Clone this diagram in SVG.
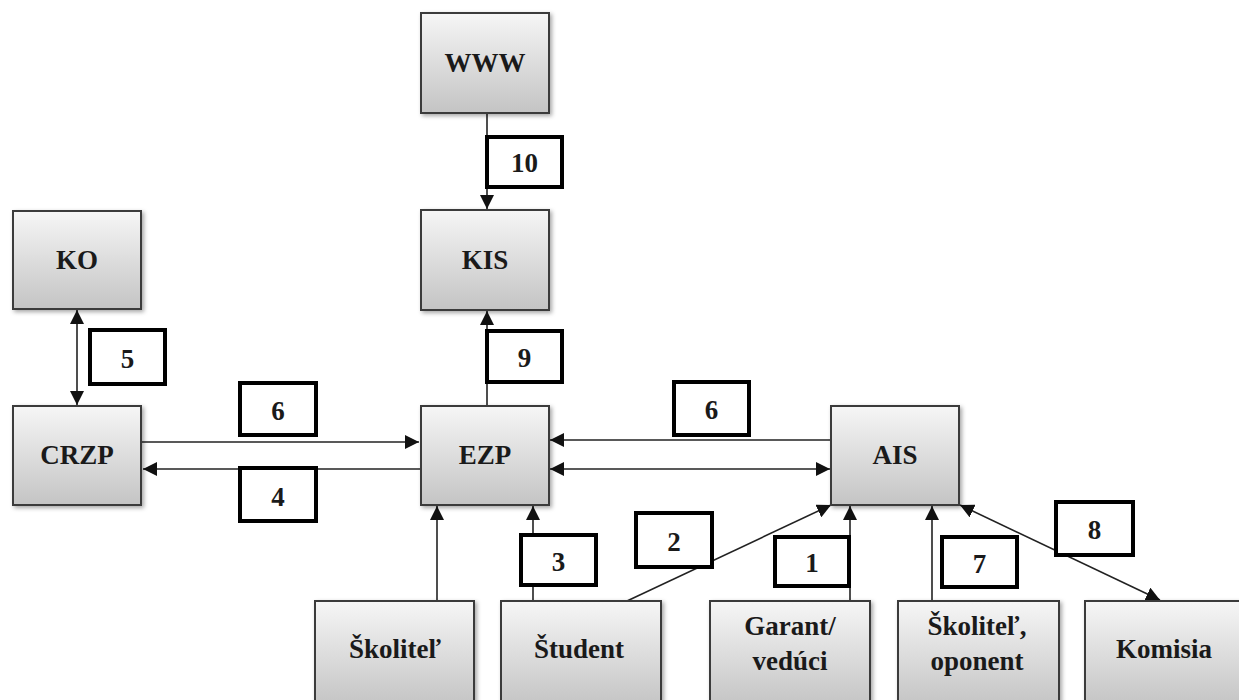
<svg xmlns="http://www.w3.org/2000/svg" width="1239" height="700" viewBox="0 0 1239 700">
<style>
.box{fill:url(#g);stroke:#3a3a3a;stroke-width:2;filter:url(#sh)}
.t{font-family:'Liberation Serif','DejaVu Serif',serif;font-weight:bold;font-size:27px;fill:#1a1a1a;text-anchor:middle}
.ln{stroke:#222;stroke-width:1.6;fill:none}
.lb{fill:#fff;stroke:#000;stroke-width:4}
.e{marker-end:url(#ah)}
.b{marker-end:url(#ah);marker-start:url(#ah)}
</style>
<defs>
<linearGradient id="g" x1="0" y1="0" x2="0" y2="1">
<stop offset="0" stop-color="#f6f6f6"/>
<stop offset="1" stop-color="#c4c4c4"/>
</linearGradient>
<filter id="sh" x="-10%" y="-10%" width="130%" height="130%">
<feDropShadow dx="2" dy="2" stdDeviation="2" flood-color="#000" flood-opacity="0.35"/>
</filter>
<marker id="ah" markerUnits="userSpaceOnUse" markerWidth="14" markerHeight="14" viewBox="0 0 12 12" refX="12" refY="6" orient="auto-start-reverse">
<path d="M0,0 L12,6 L0,12 z" fill="#111"/>
</marker>
</defs>
<rect width="1239" height="700" fill="#fff"/>
<g id="connectors">
<line class="ln e" x1="487" y1="114" x2="487" y2="209"/>
<line class="ln e" x1="487" y1="405" x2="487" y2="311"/>
<line class="ln b" x1="77" y1="310" x2="77" y2="405"/>
<line class="ln e" x1="142" y1="442" x2="419" y2="442"/>
<line class="ln e" x1="420" y1="469" x2="143" y2="469"/>
<line class="ln e" x1="831" y1="440" x2="550" y2="440"/>
<line class="ln b" x1="550" y1="469" x2="830" y2="469"/>
<line class="ln e" x1="437" y1="600" x2="437" y2="506"/>
<line class="ln e" x1="533" y1="600" x2="533" y2="506"/>
<line class="ln e" x1="627" y1="601" x2="831" y2="505"/>
<line class="ln e" x1="850" y1="600" x2="850" y2="506"/>
<line class="ln e" x1="932" y1="600" x2="932" y2="506"/>
<line class="ln b" x1="960" y1="505" x2="1160" y2="600"/>
<g id="lbl10"><rect class="lb" x="487" y="137" width="75" height="50"/><text class="t" x="524.5" y="172">10</text></g>
<g id="lbl9"><rect class="lb" x="487" y="331" width="75" height="51"/><text class="t" x="524.5" y="367">9</text></g>
<g id="lbl5"><rect class="lb" x="90" y="330" width="75" height="54"/><text class="t" x="127.5" y="368">5</text></g>
<g id="lbl6a"><rect class="lb" x="240" y="383" width="76" height="52"/><text class="t" x="278" y="420">6</text></g>
<g id="lbl4"><rect class="lb" x="240" y="468" width="76" height="53"/><text class="t" x="278" y="506">4</text></g>
<g id="lbl6b"><rect class="lb" x="674" y="382" width="75" height="53"/><text class="t" x="711.5" y="419">6</text></g>
<g id="lbl2"><rect class="lb" x="636" y="513" width="76" height="54"/><text class="t" x="674" y="551">2</text></g>
<g id="lbl3"><rect class="lb" x="521" y="535" width="75" height="50"/><text class="t" x="558.5" y="571">3</text></g>
<g id="lbl1"><rect class="lb" x="775" y="537" width="74" height="49"/><text class="t" x="812" y="572">1</text></g>
<g id="lbl7"><rect class="lb" x="942" y="537" width="75" height="50"/><text class="t" x="979.5" y="573">7</text></g>
<g id="lbl8"><rect class="lb" x="1056" y="502" width="77" height="53"/><text class="t" x="1094.5" y="539">8</text></g>
</g>
<g id="WWW"><rect class="box" x="421" y="13" width="128" height="100"/><text class="t" x="485" y="72">WWW</text></g>
<g id="KIS"><rect class="box" x="421" y="210" width="128" height="100"/><text class="t" x="485" y="269">KIS</text></g>
<g id="KO"><rect class="box" x="13" y="211" width="128" height="98"/><text class="t" x="77" y="269">KO</text></g>
<g id="CRZP"><rect class="box" x="13" y="406" width="128" height="99"/><text class="t" x="77" y="464">CRZP</text></g>
<g id="EZP"><rect class="box" x="421" y="406" width="128" height="99"/><text class="t" x="485" y="464">EZP</text></g>
<g id="AIS"><rect class="box" x="831" y="406" width="128" height="99"/><text class="t" x="895" y="464">AIS</text></g>
<g id="Skolitel"><rect class="box" x="315" y="601" width="159" height="105"/><text class="t" x="395" y="658">Školiteľ</text></g>
<g id="Student"><rect class="box" x="501" y="601" width="160" height="105"/><text class="t" x="579" y="658">Študent</text></g>
<g id="Garant"><rect class="box" x="710" y="601" width="160" height="105"/><text class="t" x="790" y="635">Garant/</text><text class="t" x="790" y="670">vedúci</text></g>
<g id="SkolitelOponent"><rect class="box" x="898" y="601" width="161" height="105"/><text class="t" x="977" y="635">Školiteľ,</text><text class="t" x="977" y="670">oponent</text></g>
<g id="Komisia"><rect class="box" x="1085" y="601" width="160" height="105"/><text class="t" x="1164" y="658">Komisia</text></g>
</svg>
